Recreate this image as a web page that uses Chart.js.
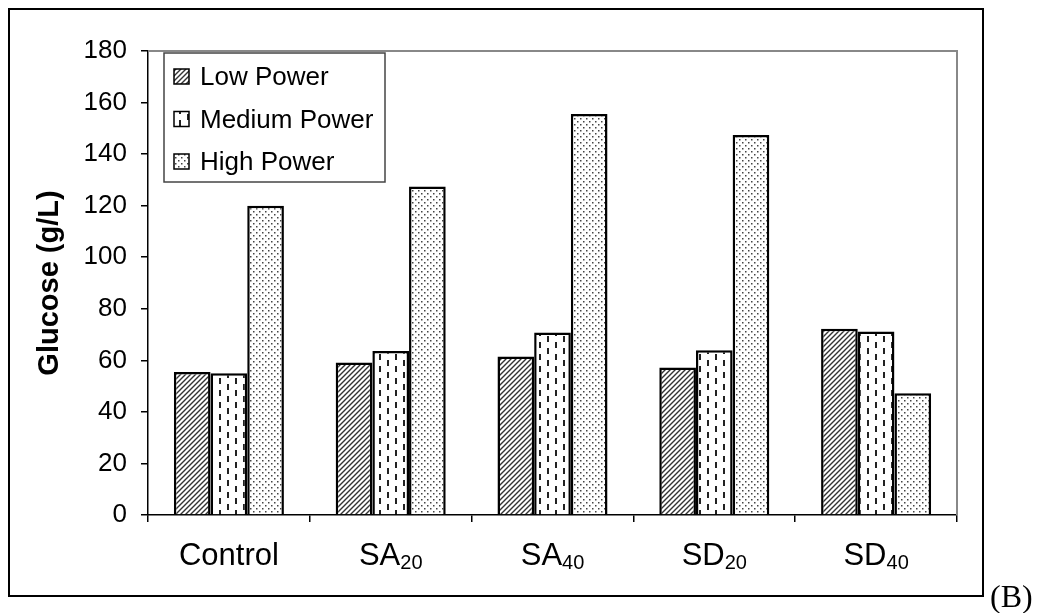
<!DOCTYPE html>
<html>
<head>
<meta charset="utf-8">
<script src="https://cdn.jsdelivr.net/npm/chart.js@4/dist/chart.umd.min.js"></script>
<style>
    body { margin: 0; background: #fff; }
</style>
</head>
<body>
<canvas id="grafikGlukosa" width="1042" height="613"></canvas>
<script>
// Kategori (nama utama + subscript)
const categoryNames = ['Control', 'SA', 'SA', 'SD', 'SD'];
const categorySubs = ['', '20', '40', '20', '40'];

// Glucose (g/L) tiap perlakuan
const lowPower = [55.5, 59.2, 61.5, 57.2, 72.3];
const mediumPower = [55.0, 63.6, 70.8, 63.9, 71.2];
const highPower = [120.0, 127.4, 155.6, 147.4, 47.2];

const seriesNames = ['Low Power', 'Medium Power', 'High Power'];
const yMin = 0;
const yMax = 180;
const yStep = 20;

const FONT = '"Liberation Sans", Arial, sans-serif';

// pola arsiran ala Excel
function makePattern(kind) {
    const c = document.createElement('canvas');
    const g = c.getContext('2d');
    if (kind === 'diag') {
        c.width = 5; c.height = 5;
        g.fillStyle = '#fff';
        g.fillRect(0, 0, 5, 5);
        g.strokeStyle = '#333';
        g.lineWidth = 1.4;
        g.beginPath();
        g.moveTo(-1, 6); g.lineTo(6, -1);
        g.moveTo(-1, 1); g.lineTo(1, -1);
        g.moveTo(4, 6); g.lineTo(6, 4);
        g.stroke();
    } else if (kind === 'dash') {
        c.width = 16; c.height = 12;
        g.fillStyle = '#fff';
        g.fillRect(0, 0, 16, 12);
        g.fillStyle = '#222';
        g.fillRect(3, 0, 2, 6);
        g.fillRect(11, 6, 2, 6);
    } else {
        c.width = 6; c.height = 6;
        g.fillStyle = '#fff';
        g.fillRect(0, 0, 6, 6);
        g.fillStyle = '#444';
        g.fillRect(1, 1, 1.5, 1.5);
        g.fillRect(4, 4, 1.5, 1.5);
    }
    return g.createPattern(c, 'repeat');
}

const patterns = [makePattern('diag'), makePattern('dash'), makePattern('dot')];

// bingkai, legenda, label sumbu x dengan subscript
const extrasPlugin = {
    id: 'extras',
    afterDraw(chart) {
        const ctx = chart.ctx;
        const area = chart.chartArea;
        ctx.save();

        // bingkai luar
        ctx.strokeStyle = '#000';
        ctx.lineWidth = 2;
        ctx.strokeRect(9, 9, 974, 587);

        // batas plot abu-abu (atas & kanan)
        ctx.strokeStyle = '#888';
        ctx.lineWidth = 2;
        ctx.beginPath();
        ctx.moveTo(area.left, area.top);
        ctx.lineTo(area.right, area.top);
        ctx.lineTo(area.right, area.bottom);
        ctx.stroke();

        // label kategori
        const xScale = chart.scales.x;
        ctx.fillStyle = '#000';
        ctx.textBaseline = 'alphabetic';
        ctx.textAlign = 'left';
        categoryNames.forEach((name, i) => {
            ctx.font = '31px ' + FONT;
            const w1 = ctx.measureText(name).width;
            ctx.font = '20px ' + FONT;
            const w2 = categorySubs[i] ? ctx.measureText(categorySubs[i]).width : 0;
            const cx = xScale.getPixelForValue(i);
            const x0 = cx - (w1 + w2) / 2;
            ctx.font = '31px ' + FONT;
            ctx.fillText(name, x0, 565);
            if (categorySubs[i]) {
                ctx.font = '20px ' + FONT;
                ctx.fillText(categorySubs[i], x0 + w1, 569);
            }
        });

        // legenda di dalam plot
        const lx = 164, ly = 53, lw = 221, lh = 129;
        ctx.fillStyle = '#fff';
        ctx.fillRect(lx, ly, lw, lh);
        ctx.strokeStyle = '#444';
        ctx.lineWidth = 1.5;
        ctx.strokeRect(lx, ly, lw, lh);
        ctx.font = '26px ' + FONT;
        ctx.textBaseline = 'middle';
        chart.data.datasets.forEach((ds, i) => {
            const cy = 77 + i * 42.5;
            ctx.fillStyle = patterns[i];
            ctx.fillRect(174, cy - 8, 15, 15);
            ctx.strokeStyle = '#000';
            ctx.lineWidth = 1.5;
            ctx.strokeRect(174, cy - 8, 15, 15);
            ctx.fillStyle = '#000';
            ctx.fillText(ds.label, 200, cy + 1);
        });

        // penanda panel
        ctx.font = '32px "Liberation Serif", "Times New Roman", serif';
        ctx.textBaseline = 'alphabetic';
        ctx.fillText('(B)', 990, 607);

        ctx.restore();
    }
};

const data = {
    labels: categoryNames.map((n, i) => n + categorySubs[i]),
    datasets: [lowPower, mediumPower, highPower].map((vals, i) => ({
        label: seriesNames[i],
        data: vals,
        backgroundColor: patterns[i],
        borderColor: '#000',
        borderWidth: 2.5,
        borderSkipped: 'bottom',
        categoryPercentage: 0.68,
        barPercentage: 1.0
    }))
};

const config = {
    type: 'bar',
    data: data,
    options: {
        responsive: false,
        animation: false,
        devicePixelRatio: 1,
        layout: {
            padding: { top: 51, right: 85, bottom: 0, left: 0 }
        },
        plugins: {
            legend: { display: false },
            tooltip: { enabled: false }
        },
        scales: {
            x: {
                afterFit(scale) { scale.height = 98; },
                border: { color: '#000', width: 1.5 },
                grid: {
                    drawOnChartArea: false,
                    drawTicks: true,
                    tickLength: 7,
                    color: '#000',
                    lineWidth: 1.5
                },
                ticks: { color: 'rgba(0,0,0,0)', font: { size: 20 } }
            },
            y: {
                min: yMin,
                max: yMax,
                afterFit(scale) { scale.width = 148; },
                border: { color: '#000', width: 1.5 },
                grid: {
                    drawOnChartArea: false,
                    drawTicks: true,
                    tickLength: 7,
                    color: '#000',
                    lineWidth: 1.5
                },
                ticks: {
                    stepSize: yStep,
                    color: '#000',
                    padding: 14,
                    font: { family: FONT, size: 26 }
                },
                title: {
                    display: true,
                    text: 'Glucose (g/L)',
                    color: '#000',
                    font: { family: FONT, size: 29, weight: 'bold' },
                    padding: { top: 33, bottom: 0 }
                }
            }
        }
    },
    plugins: [extrasPlugin]
};

const ctx = document.getElementById('grafikGlukosa').getContext('2d');
new Chart(ctx, config);
</script>
</body>
</html>
